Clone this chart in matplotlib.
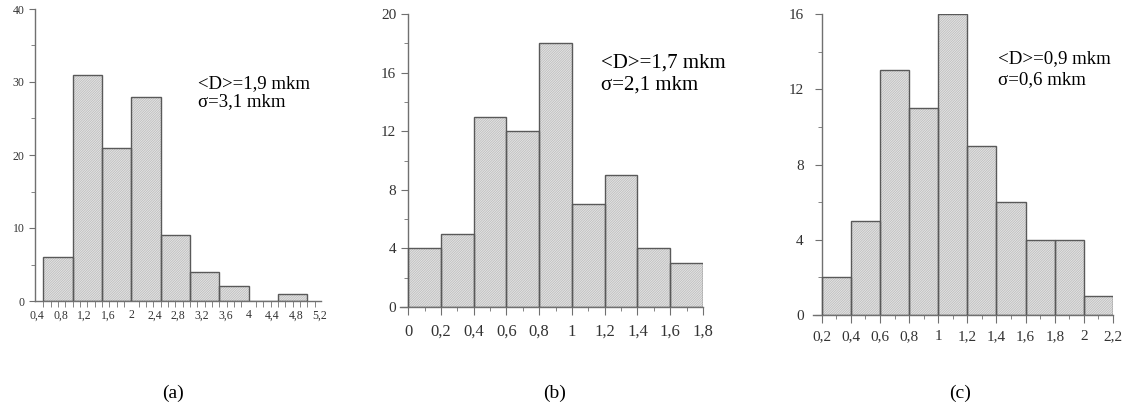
import matplotlib
matplotlib.use("Agg")
import matplotlib.pyplot as plt
import numpy as np

plt.rcParams['font.family'] = ['Liberation Serif', 'DejaVu Serif']
plt.rcParams['hatch.linewidth'] = 0.5

# Panel (a)
a_edges = [0.5, 1.0, 1.5, 2.0, 2.5, 3.0, 3.5, 4.0, 4.5, 5.0]
a_counts = [6, 31, 21, 28, 9, 4, 2, 0, 1]
a_ticklabels = ["0,4", "0,8", "1,2", "1,6", "2", "2,4", "2,8", "3,2", "3,6", "4", "4,4", "4,8", "5,2"]
a_tickpos = [0.4, 0.8, 1.2, 1.6, 2.0, 2.4, 2.8, 3.2, 3.6, 4.0, 4.4, 4.8, 5.2]
a_yticks = [0, 10, 20, 30, 40]
a_text = "<D>=1,9 mkm\nσ=3,1 mkm"

# Panel (b)
b_edges = [0.0, 0.2, 0.4, 0.6, 0.8, 1.0, 1.2, 1.4, 1.6, 1.8]
b_counts = [4, 5, 13, 12, 18, 7, 9, 4, 3]
b_ticklabels = ["0", "0,2", "0,4", "0,6", "0,8", "1", "1,2", "1,4", "1,6", "1,8"]
b_yticks = [0, 4, 8, 12, 16, 20]
b_text = "<D>=1,7 mkm\nσ=2,1 mkm"

# Panel (c)
c_edges = [0.2, 0.4, 0.6, 0.8, 1.0, 1.2, 1.4, 1.6, 1.8, 2.0, 2.2]
c_counts = [2, 5, 13, 11, 16, 9, 6, 4, 4, 1]
c_ticklabels = ["0,2", "0,4", "0,6", "0,8", "1", "1,2", "1,4", "1,6", "1,8", "2", "2,2"]
c_yticks = [0, 4, 8, 12, 16]
c_text = "<D>=0,9 mkm\nσ=0,6 mkm"

panel_labels = ["(a)", "(b)", "(c)"]

W, H = 1130, 413
fig = plt.figure(figsize=(W / 100, H / 100), dpi=100)

def px_axes(x0, x1, y_top, y_bot):
    return fig.add_axes([x0 / W, 1 - y_bot / H, (x1 - x0) / W, (y_bot - y_top) / H])

FACE = '#e4e4e4'
HATCH = '#b9b9b9'
EDGE = '#595959'
AX = '#707070'

def style(ax):
    for s in ['top', 'right']:
        ax.spines[s].set_visible(False)
    for s in ['left', 'bottom']:
        ax.spines[s].set_color(AX)
        ax.spines[s].set_linewidth(1.0)
    ax.tick_params(colors='#333333', which='both', direction='out')
    ax.tick_params(which='both', color=AX)

def draw_bars(ax, edges, counts):
    edges = np.asarray(edges)
    widths = np.diff(edges)
    # hatched fill (hatch colour follows edgecolor)
    ax.bar(edges[:-1], counts, width=widths, align='edge', facecolor=FACE,
           edgecolor=HATCH, linewidth=0, hatch='/' * 14, zorder=2)
    # outlines
    ax.bar(edges[:-1], counts, width=widths, align='edge', fill=False,
           edgecolor=EDGE, linewidth=1.0, zorder=3)

# ---- (a)
axa = px_axes(35, 321, 9, 301)
draw_bars(axa, a_edges, a_counts)
axa.set_xlim(0.36, 5.23)
axa.set_ylim(0, 40)
style(axa)
axa.spines['left'].set_position(('data', 0.36))
axa.set_xticks(a_tickpos, a_ticklabels, fontsize=8.5)
axa.tick_params(axis='x', which='major', length=0, pad=6)
axa.set_xticks(np.arange(0.5, 5.21, 0.125), minor=True)
axa.tick_params(axis='x', which='minor', length=4)
axa.set_yticks(a_yticks)
axa.set_yticks([5, 15, 25, 35], minor=True)
axa.tick_params(axis='y', labelsize=8.5, length=4)
axa.tick_params(axis='y', which='minor', length=3)
axa.text(0.57, 0.775, a_text, transform=axa.transAxes, fontsize=13.5,
         va='top', ha='left', linespacing=1.1)

# ---- (b)
axb = px_axes(400, 703, 14, 307)
draw_bars(axb, b_edges, b_counts)
axb.set_xlim(-0.05, 1.8)
axb.set_ylim(0, 20)
style(axb)
axb.spines['left'].set_position(('data', 0))
axb.set_xticks(b_edges, b_ticklabels, fontsize=12)
axb.set_xticks(np.arange(0.1, 1.8, 0.2), minor=True)
axb.tick_params(axis='x', which='major', length=6, pad=6)
axb.tick_params(axis='x', which='minor', length=3)
axb.set_yticks(b_yticks)
axb.set_yticks(np.arange(2, 20, 4), minor=True)
axb.tick_params(axis='y', labelsize=11, length=5)
axb.tick_params(axis='y', which='minor', length=3)
axb.text(0.665, 0.865, b_text, transform=axb.transAxes, fontsize=15,
         va='top', ha='left', linespacing=1.18)

# ---- (c)
axc = px_axes(813, 1113, 14, 315)
draw_bars(axc, c_edges, c_counts)
axc.set_xlim(0.14, 2.2)
axc.set_ylim(0, 16)
style(axc)
axc.spines['left'].set_position(('data', 0.2))
axc.set_xticks(c_edges, c_ticklabels, fontsize=11)
axc.set_xticks(np.arange(0.3, 2.2, 0.2), minor=True)
axc.tick_params(axis='x', which='major', length=6, pad=5)
axc.tick_params(axis='x', which='minor', length=3)
axc.set_yticks(c_yticks)
axc.set_yticks(np.arange(2, 16, 4), minor=True)
axc.tick_params(axis='y', labelsize=11, length=5, pad=8)
axc.tick_params(axis='y', which='minor', length=3)
axc.text(0.617, 0.88, c_text, transform=axc.transAxes, fontsize=13.6,
         va='top', ha='left', linespacing=1.3)

for lab, xc in zip(panel_labels, [173, 555, 960]):
    fig.text(xc / W, 1 - 393 / H, lab, ha='center', va='center', fontsize=14)

fig.savefig("out.png", dpi=100, facecolor='white')
